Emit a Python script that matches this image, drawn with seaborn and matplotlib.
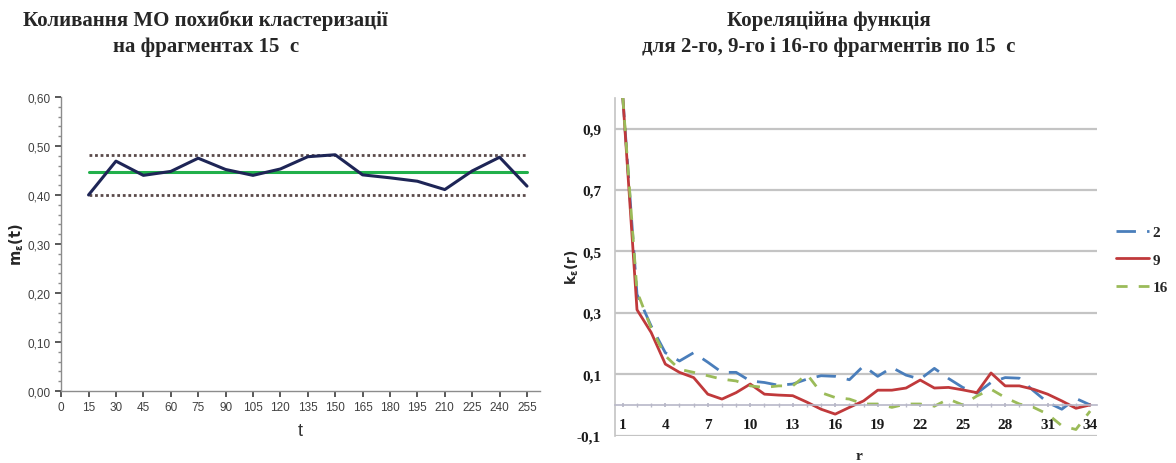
import numpy as np
import pandas as pd
import matplotlib
matplotlib.use("Agg")
import matplotlib.pyplot as plt
import seaborn as sns
from matplotlib.ticker import MultipleLocator, FixedLocator

# --- data: mean clustering error over 15 s fragments ---
t_values = [15, 30, 45, 60, 75, 90, 105, 120, 135, 150, 165, 180, 195, 210, 225, 240, 255]
m_values = [0.400, 0.469, 0.440, 0.448, 0.475, 0.452, 0.440, 0.453, 0.478, 0.482,
            0.441, 0.435, 0.428, 0.411, 0.449, 0.477, 0.418]
mean_level = 0.446
upper_level = 0.481
lower_level = 0.400

# --- data: correlation function for fragments 2, 9, 16 ---
r_values = list(range(1, 35))
k_frag2 = [1.0, 0.36, 0.257, 0.17, 0.143, 0.17, 0.139, 0.106, 0.106, 0.078,
           0.073, 0.064, 0.068, 0.084, 0.095, 0.093, 0.082, 0.127, 0.093, 0.122,
           0.097, 0.084, 0.119, 0.086, 0.057, 0.038, 0.073, 0.089, 0.087, 0.046,
           0.008, -0.014, 0.021, 0.0]
k_frag9 = [1.0, 0.31, 0.236, 0.133, 0.106, 0.089, 0.035, 0.019, 0.040, 0.068,
           0.035, 0.032, 0.030, 0.009, -0.014, -0.030, -0.008, 0.013, 0.048, 0.048,
           0.055, 0.081, 0.055, 0.057, 0.049, 0.040, 0.104, 0.062, 0.062, 0.051,
           0.035, 0.013, -0.011, 0.0]
k_frag16 = [1.0, 0.37, 0.25, 0.16, 0.116, 0.106, 0.095, 0.084, 0.078, 0.062,
            0.057, 0.062, 0.062, 0.100, 0.040, 0.024, 0.019, 0.003, 0.003, -0.008,
            0.003, 0.003, -0.004, 0.019, 0.0, 0.029, 0.051, 0.024, 0.003, -0.008,
            -0.030, -0.068, -0.080, -0.020]
fragment_names = ["2", "9", "16"]

left_ticks = [0.0, 0.1, 0.2, 0.3, 0.4, 0.5, 0.6]
left_ticklabels = ["0,00", "0,10", "0,20", "0,30", "0,40", "0,50", "0,60"]
t_ticks = list(range(0, 256, 15))
right_ticks = [-0.1, 0.1, 0.3, 0.5, 0.7, 0.9]
right_ticklabels = ["-0,1", "0,1", "0,3", "0,5", "0,7", "0,9"]
r_ticks = list(range(1, 35, 3))

sns.set_theme(style="white")
plt.rcParams["font.family"] = ["Liberation Serif", "DejaVu Serif"]

fig = plt.figure(figsize=(11.76, 4.64), dpi=100)
ax1 = fig.add_axes([0.052, 0.155, 0.407, 0.634])
ax2 = fig.add_axes([0.523, 0.059, 0.410, 0.728])

# ---------------- left panel ----------------
df_m = pd.DataFrame({"t": t_values, "m": m_values})
band_x = [t_values[0], t_values[-1]]
ax1.plot(band_x, [upper_level, upper_level], color="#5a4a4a", lw=2.0, ls=(0, (1, 1)))
ax1.plot(band_x, [lower_level, lower_level], color="#5a4a4a", lw=2.0, ls=(0, (1, 1)))
ax1.plot(band_x, [mean_level, mean_level], color="#21b04b", lw=2.2)
sns.lineplot(data=df_m, x="t", y="m", ax=ax1, color="#1e2556", lw=2.2)

ax1.set_xlim(0, 262)
ax1.set_ylim(0, 0.6)
ax1.set_xticks(t_ticks)
ax1.set_xticklabels([str(v) for v in t_ticks])
ax1.set_yticks(left_ticks)
ax1.set_yticklabels(left_ticklabels)
ax1.yaxis.set_minor_locator(MultipleLocator(0.02))
for sp in ["top", "right"]:
    ax1.spines[sp].set_visible(False)
for sp in ["left", "bottom"]:
    ax1.spines[sp].set_color("#8c8c8c")
    ax1.spines[sp].set_linewidth(1.0)
ax1.tick_params(axis="both", which="major", labelsize=8.5, colors="#444444",
                length=4, direction="out", left=True, bottom=True)
ax1.tick_params(axis="y", which="minor", length=2.5, direction="out", left=True,
                color="#8c8c8c")
for lab in ax1.get_xticklabels() + ax1.get_yticklabels():
    lab.set_family(["Liberation Sans", "DejaVu Sans"])
    lab.set_color("#404040")
ax1.set_xlabel("t", fontsize=13, family=["Liberation Sans", "DejaVu Sans"],
               labelpad=6, color="#333333")
ax1.set_ylabel(r"$\mathbf{m_{\varepsilon}(t)}$", fontsize=10.5, labelpad=1)

# ---------------- right panel ----------------
df_k = pd.DataFrame({
    "r": r_values * 3,
    "k": k_frag2 + k_frag9 + k_frag16,
    "fragment": [fragment_names[0]] * 34 + [fragment_names[1]] * 34 + [fragment_names[2]] * 34,
})
palette = {"2": "#4a7ebb", "9": "#c0393b", "16": "#9bbb59"}
dashes = {"2": (7, 4), "9": "", "16": (4, 4)}
sns.lineplot(data=df_k, x="r", y="k", hue="fragment", style="fragment",
             palette=palette, dashes=dashes, ax=ax2, lw=2.0,
             hue_order=fragment_names, style_order=fragment_names)

ax2.set_xlim(0.45, 34.5)
ax2.set_ylim(-0.1, 1.0)
ax2.set_yticks(right_ticks)
ax2.set_yticklabels(right_ticklabels)
ax2.yaxis.grid(True, color="#c4c4c4", lw=1.6)
ax2.xaxis.grid(False)
ax2.set_axisbelow(True)
for sp in ["top", "right"]:
    ax2.spines[sp].set_visible(False)
ax2.spines["left"].set_color("#c4c4c4")
ax2.spines["left"].set_linewidth(1.2)
ax2.spines["bottom"].set_position(("data", 0.0))
ax2.spines["bottom"].set_color("#b8b8c8")
ax2.spines["bottom"].set_linewidth(1.2)
ax2.set_xticks(r_ticks)
ax2.set_xticklabels([str(v) for v in r_ticks])
ax2.xaxis.set_minor_locator(FixedLocator(r_values))
ax2.tick_params(axis="x", which="both", length=3, direction="inout", color="#b8b8c8",
                bottom=True, pad=8, labelsize=11)
ax2.tick_params(axis="y", which="both", length=0, pad=10, labelsize=11)
for lab in ax2.get_xticklabels() + ax2.get_yticklabels():
    lab.set_fontweight("bold")
    lab.set_color("#1a1a1a")
ax2.set_xlabel("r", fontsize=11, fontweight="bold")
ax2.xaxis.set_label_coords(0.505, -0.04)
ax2.set_ylabel(r"$\mathbf{k_{\varepsilon}(r)}$", fontsize=10, labelpad=-3)

leg = ax2.legend(loc="center left", bbox_to_anchor=(1.01, 0.52), frameon=False,
                 handlelength=2.2, handletextpad=0.2, labelspacing=0.9,
                 prop={"weight": "bold", "size": 11})
for h in leg.get_lines():
    h.set_linewidth(2.0)

# ---------------- titles ----------------
fig.text(0.175, 0.977, "Коливання МО похибки кластеризації\nна фрагментах 15  с",
         ha="center", va="top", fontsize=15, fontweight="bold", linespacing=1.4)
fig.text(0.705, 0.977, "Кореляційна функція\nдля 2-го, 9-го і 16-го фрагментів по 15  с",
         ha="center", va="top", fontsize=15, fontweight="bold", linespacing=1.4)

fig.savefig("out.png", dpi=100, facecolor="white")
